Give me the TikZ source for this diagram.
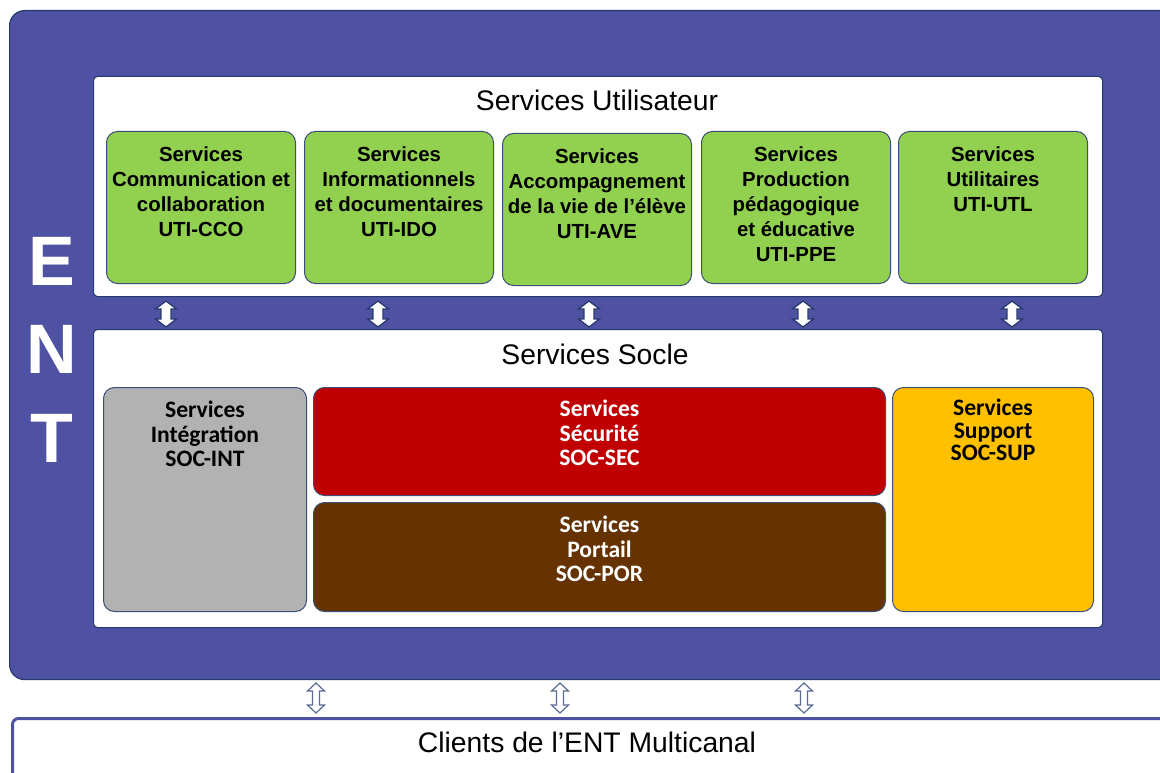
\documentclass[tikz,border=0pt]{standalone}
\usepackage{fontspec}
\setmainfont{Liberation Sans}
\newfontfamily\calfont{Carlito}
\definecolor{entblue}{RGB}{79,82,162}
\definecolor{navyline}{RGB}{38,58,110}
\definecolor{boxline}{RGB}{60,78,120}
\definecolor{utigreen}{RGB}{146,208,80}
\definecolor{socgray}{RGB}{178,178,178}
\definecolor{socred}{RGB}{192,0,0}
\definecolor{socbrown}{RGB}{102,51,0}
\definecolor{socyellow}{RGB}{255,192,0}
\definecolor{outarrow}{RGB}{90,108,150}
\tikzset{
  box/.style={draw=boxline, line width=1pt, rounded corners=11pt, anchor=north west, inner sep=0pt},
  panel/.style={draw=navyline, fill=white, line width=1pt, rounded corners=4pt, anchor=north west, inner sep=0pt},
  utibox/.style={box, fill=utigreen, minimum width=189pt, minimum height=152pt},
  utitext/.style={anchor=north, inner sep=0pt, align=center, font=\bfseries\fontsize{20.4}{25}\selectfont},
  soctext/.style={anchor=north, inner sep=0pt, align=center, font=\calfont\bfseries\fontsize{23.6}{24.5}\selectfont},
  title/.style={anchor=base, inner sep=0pt, font=\fontsize{28.3}{30}\selectfont},
  entletter/.style={anchor=base, inner sep=0pt, text=white, font=\bfseries\fontsize{70}{70}\selectfont},
  pics/dbl/.style args={#1/#2/#3/#4}{code={
    \path[pic actions] (0,-#1) -- (#2,-#1+#4) -- (#3,-#1+#4) -- (#3,#1-#4) -- (#2,#1-#4) -- (0,#1)
      -- (-#2,#1-#4) -- (-#3,#1-#4) -- (-#3,-#1+#4) -- (-#2,-#1+#4) -- cycle;}},
  linkarrow/.style={draw=navyline, fill=white, line width=1.3pt, line join=miter},
  clientarrow/.style={draw=outarrow, fill=white, line width=1.2pt, line join=miter}
}
\begin{document}
\begin{tikzpicture}[x=1pt,y=-1pt]
\useasboundingbox (0,0) rectangle (1160,773);
\clip (0,0) rectangle (1160,773);
% ENT outer frame
\node[draw=navyline, fill=entblue, line width=1.2pt, rounded corners=15pt, anchor=north west, inner sep=0pt,
      minimum width=1170pt, minimum height=669pt] (ent) at (9,10) {};
\node[entletter] (lE) at (52,285) {E};
\node[entletter] (lN) at (52,373) {N};
\node[entletter] (lT) at (52,462) {T};
% Services Utilisateur panel
\node[panel, minimum width=1009pt, minimum height=220pt] (util) at (93,76) {};
\node[title] (utiltitle) at (597,111) {Services Utilisateur};
\node[utibox] (cco) at (106,131) {};
\node[utibox] (ido) at (304,131) {};
\node[utibox] (ave) at (502,133) {};
\node[utibox] (ppe) at (701,131) {};
\node[utibox] (utl) at (898,131) {};
\node[utitext] (ccot) at ([yshift=-16pt]cco.north) {Services\\Communication et\\collaboration\\UTI-CCO};
\node[utitext] (idot) at ([yshift=-16pt]ido.north) {Services\\Informationnels\\et documentaires\\UTI-IDO};
\node[utitext] (avet) at ([yshift=-16pt]ave.north) {Services\\Accompagnement\\de la vie de l’élève\\UTI-AVE};
\node[utitext] (ppet) at ([yshift=-16pt]ppe.north) {Services\\Production\\pédagogique\\et éducative\\UTI-PPE};
\node[utitext] (utlt) at ([yshift=-16pt]utl.north) {Services\\Utilitaires\\UTI-UTL};
% Services Socle panel
\node[panel, minimum width=1009pt, minimum height=298pt] (socle) at (93,329) {};
\node[title] (sycletitle) at (595,364) {Services Socle};
\node[box, fill=socgray, minimum width=203pt, minimum height=224pt] (int) at (103,387) {};
\node[box, fill=socred, minimum width=572pt, minimum height=108pt] (sec) at (313,387) {};
\node[box, fill=socbrown, minimum width=572pt, minimum height=109pt] (por) at (313,502) {};
\node[box, fill=socyellow, minimum width=201pt, minimum height=224pt] (sup) at (892,387) {};
\node[soctext] (intt) at ([yshift=-14pt]int.north) {Services\\Intégration\\SOC-INT};
\node[soctext, text=white] (sect) at ([yshift=-13pt]sec.north) {Services\\Sécurité\\SOC-SEC};
\node[soctext, text=white] (port) at ([yshift=-14pt]por.north) {Services\\Portail\\SOC-POR};
\node[soctext, font=\calfont\bfseries\fontsize{23.6}{22.5}\selectfont] (supt) at ([yshift=-12pt]sup.north) {Services\\Support\\SOC-SUP};
% links between panels
\pic[linkarrow] (a1) at (166,314) {dbl=13/10.5/5/8};
\pic[linkarrow] (a2) at (378,314) {dbl=13/10.5/5/8};
\pic[linkarrow] (a3) at (589,314) {dbl=13/10.5/5/8};
\pic[linkarrow] (a4) at (803,314) {dbl=13/10.5/5/8};
\pic[linkarrow] (a5) at (1012,314) {dbl=13/10.5/5/8};
% clients
\node[draw=entblue, line width=3pt, rounded corners=6pt, anchor=north west, inner sep=0pt,
      minimum width=1175pt, minimum height=90pt] (clients) at (11,717) {};
\node[title] (clientstitle) at (587,752) {Clients de l’ENT Multicanal};
\pic[clientarrow] (b1) at (316,698) {dbl=15/8.5/3.5/8};
\pic[clientarrow] (b2) at (560,698) {dbl=15/8.5/3.5/8};
\pic[clientarrow] (b3) at (804,698) {dbl=15/8.5/3.5/8};
\end{tikzpicture}
\end{document}
